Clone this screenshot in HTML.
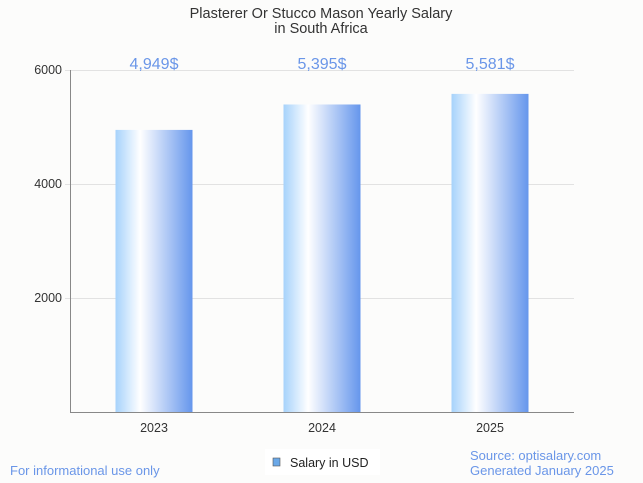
<!DOCTYPE html>
<html><head><meta charset="utf-8"><style>
body{margin:0;background:#fcfcfb;}
svg{display:block;font-family:"Liberation Sans",sans-serif;}
</style></head><body>
<svg id="c" width="643" height="483">
<defs><linearGradient id="g" x1="0" x2="1" y1="0" y2="0">
<stop offset="0" stop-color="#a6d2fb"/><stop offset="0.32" stop-color="#ffffff"/><stop offset="1" stop-color="#6596ec"/>
</linearGradient></defs>
<rect width="643" height="483" fill="#fcfcfb"/>
<text x="321" y="18" text-anchor="middle" font-size="14.5" fill="#333">Plasterer Or Stucco Mason Yearly Salary</text>
<text x="321" y="33" text-anchor="middle" font-size="14.5" fill="#333">in South Africa</text>
<g id="grid"></g><g id="bars"></g>
<line x1="70" y1="412.5" x2="574" y2="412.5" stroke="#888"/>
<line x1="70.5" y1="70" x2="70.5" y2="413" stroke="#888"/>
<text x="10" y="475" font-size="13" fill="#6a96e8">For informational use only</text>
<rect x="265" y="449" width="115" height="26" fill="#fff"/>
<rect x="273" y="458" width="7" height="8" fill="#6aa8e8" stroke="#555" stroke-width="0.6"/>
<text x="290" y="467" font-size="12.5" fill="#222">Salary in USD</text>
<text x="470" y="460" font-size="13" fill="#6a96e8">Source: optisalary.com</text>
<text x="470" y="475" font-size="13" fill="#6a96e8">Generated January 2025</text>
</svg>
<script>
const categories=["2023","2024","2025"];
const values=[4949,5395,5581];
const valueLabels=["4,949$","5,395$","5,581$"];
const yTicks=[2000,4000,6000];
const ns="http://www.w3.org/2000/svg";
const y0=412,yTop=70,yMax=6000,xL=70,xR=574;
const y=v=>y0-(v/yMax)*(y0-yTop);
const band=(xR-xL)/categories.length;
const bw=77;
function mk(t,a,p){const e=document.createElementNS(ns,t);for(const k in a)e.setAttribute(k,a[k]);p.appendChild(e);return e;}
const grid=document.getElementById('grid'),bars=document.getElementById('bars');
yTicks.forEach(t=>{
 const l=mk('line',{x1:xL-5,x2:xR,y1:y(t)+0.5,y2:y(t)+0.5,stroke:'#e2e2e2'},grid);
 
 
 const tx=mk('text',{x:xL-8,y:y(t)+4,'text-anchor':'end','font-size':12.5,fill:'#333'},grid);
 tx.textContent=t;
 
 
});
categories.forEach((c,i)=>{
 const cx=xL+band*(i+0.5);
 const r=mk('rect',{x:cx-bw/2,y:y(values[i]),width:bw,height:y0-y(values[i]),fill:'url(#g)'},bars);
 
 
 const vl=mk('text',{x:cx,y:69,'text-anchor':'middle','font-size':16,fill:'#6a96e8'},bars);
 vl.textContent=valueLabels[i];
 
 
 const xl=mk('text',{x:cx,y:432,'text-anchor':'middle','font-size':12.5,fill:'#333'},bars);
 xl.textContent=c;
 
 
});
</script>
</body></html>
